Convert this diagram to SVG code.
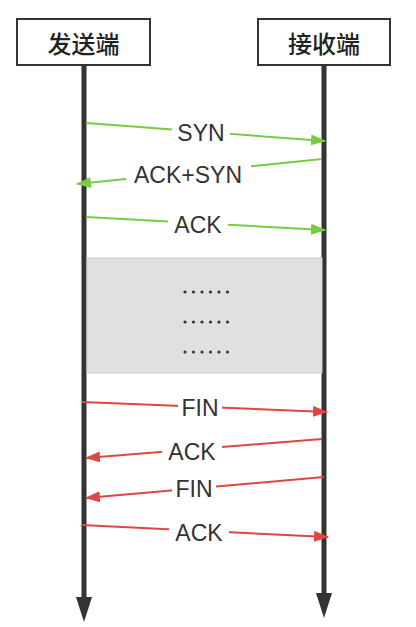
<svg xmlns="http://www.w3.org/2000/svg" width="416" height="627" viewBox="0 0 416 627">
<style>
.box{fill:#fff;stroke:#333;stroke-width:2}
.title{font-family:"Noto Sans CJK SC","Noto Sans",sans-serif;font-size:24px;font-weight:500;fill:#222;text-anchor:middle;dominant-baseline:central}
.life{stroke:#333;stroke-width:5}
.g{stroke:#78cc45;stroke-width:2;fill:none}
.r{stroke:#e04545;stroke-width:2;fill:none}
.lbl{font-family:"Liberation Sans",Arial,sans-serif;font-size:23px;fill:#333;text-anchor:middle;dominant-baseline:central}
.bg{fill:#fff}
.dot{fill:#333}
</style>
<defs>
<marker id="ag" markerWidth="15" markerHeight="11" refX="14" refY="5.5" orient="auto" markerUnits="userSpaceOnUse"><path d="M0,0 L15,5.5 L0,11 Z" fill="#78cc45"/></marker>
<marker id="ar" markerWidth="15" markerHeight="11" refX="14" refY="5.5" orient="auto" markerUnits="userSpaceOnUse"><path d="M0,0 L15,5.5 L0,11 Z" fill="#e04545"/></marker>
</defs>
<g id="sender">
<rect class="box" x="17" y="19" width="133" height="46"/>
<text class="title" x="83.5" y="42">发送端</text>
</g>
<g id="receiver">
<rect class="box" x="258" y="19" width="132" height="46"/>
<text class="title" x="324" y="42">接收端</text>
</g>
<g id="lifelines">
<line class="life" x1="84" y1="65" x2="84" y2="600"/>
<path d="M76,597 L92,597 L84,622 Z" fill="#333"/>
<line class="life" x1="324" y1="65" x2="324" y2="596"/>
<path d="M316,593 L332,593 L324,618 Z" fill="#333"/>
</g>
<g id="gap">
<rect x="87" y="258" width="235" height="115" fill="#e0e0e0" stroke="#d0d0d0" stroke-width="1"/>
<g class="dot">
<circle cx="185" cy="292" r="1.6"/><circle cx="193.5" cy="292" r="1.6"/><circle cx="202" cy="292" r="1.6"/><circle cx="210.5" cy="292" r="1.6"/><circle cx="219" cy="292" r="1.6"/><circle cx="227.5" cy="292" r="1.6"/>
<circle cx="185" cy="322" r="1.6"/><circle cx="193.5" cy="322" r="1.6"/><circle cx="202" cy="322" r="1.6"/><circle cx="210.5" cy="322" r="1.6"/><circle cx="219" cy="322" r="1.6"/><circle cx="227.5" cy="322" r="1.6"/>
<circle cx="185" cy="352" r="1.6"/><circle cx="193.5" cy="352" r="1.6"/><circle cx="202" cy="352" r="1.6"/><circle cx="210.5" cy="352" r="1.6"/><circle cx="219" cy="352" r="1.6"/><circle cx="227.5" cy="352" r="1.6"/>
</g>
</g>
<g id="connectors">
<line class="g" x1="86" y1="123" x2="325" y2="141" marker-end="url(#ag)"/>
<line class="g" x1="322" y1="159" x2="77" y2="184" marker-end="url(#ag)"/>
<line class="g" x1="86" y1="217" x2="325" y2="230" marker-end="url(#ag)"/>
<line class="r" x1="82" y1="402" x2="327" y2="412" marker-end="url(#ar)"/>
<line class="r" x1="322" y1="439" x2="86" y2="458" marker-end="url(#ar)"/>
<line class="r" x1="324" y1="477" x2="86" y2="498" marker-end="url(#ar)"/>
<line class="r" x1="81" y1="525" x2="328" y2="537" marker-end="url(#ar)"/>
</g>
<g id="labels">
<rect class="bg" x="172" y="120" width="58" height="26"/><text class="lbl" x="201" y="133">SYN</text>
<rect class="bg" x="126" y="162" width="125" height="26"/><text class="lbl" x="188" y="175">ACK+SYN</text>
<rect class="bg" x="168" y="212" width="60" height="26"/><text class="lbl" x="198" y="225">ACK</text>
<rect class="bg" x="178" y="395" width="44" height="26"/><text class="lbl" x="200" y="408">FIN</text>
<rect class="bg" x="162" y="439" width="60" height="26"/><text class="lbl" x="192" y="452">ACK</text>
<rect class="bg" x="172" y="476" width="44" height="26"/><text class="lbl" x="194" y="489">FIN</text>
<rect class="bg" x="169" y="520" width="60" height="26"/><text class="lbl" x="199" y="533">ACK</text>
</g>
</svg>
